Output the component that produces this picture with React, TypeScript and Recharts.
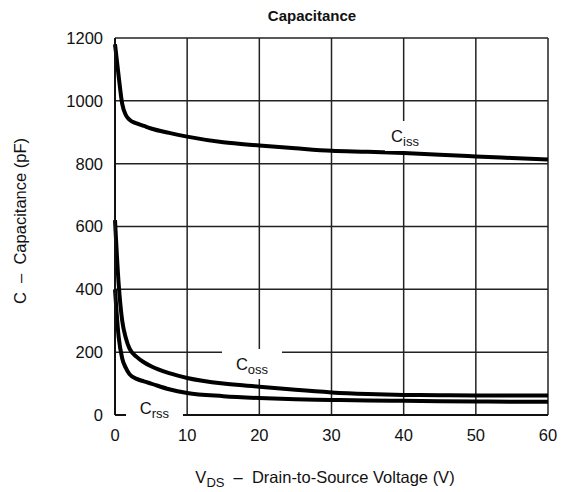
import { LineChart, Line, XAxis, YAxis, CartesianGrid } from "recharts"

// V_DS (V)
const vds = [0, 0.5, 1, 1.5, 2, 3, 4, 5, 7.5, 10, 15, 20, 25, 30, 35, 40, 45, 50, 55, 60]
// capacitances (pF)
const ciss = [1180, 1080, 990, 955, 940, 928, 920, 912, 898, 886, 868, 858, 849, 841, 838, 834, 828, 823, 818, 813]
const coss = [620, 420, 300, 245, 212, 185, 168, 155, 133, 118, 100, 90, 80, 72, 67, 64, 63, 62, 62, 62]
const crss = [400, 250, 180, 150, 130, 115, 107, 100, 82, 70, 60, 54, 50, 48, 46, 45, 44, 43, 42, 42]

const xTicks = [0, 10, 20, 30, 40, 50, 60]
const yTicks = [0, 200, 400, 600, 800, 1000, 1200]

const data = vds.map((v, i) => ({ vds: v, ciss: ciss[i], coss: coss[i], crss: crss[i] }))

const FONT = "'Liberation Sans', Arial, sans-serif"
const tickStyle = { fontSize: 16.5, fill: "#111", fontFamily: FONT }

function CurveLabel({ name, sub, left, top, width, height }: { name: string; sub: string; left: number; top: number; width: number; height: number }) {
  return (
    <div
      style={{
        position: "absolute",
        left,
        top,
        width,
        height,
        background: "#fff",
        fontFamily: FONT,
        fontSize: 16.5,
        color: "#111",
        display: "flex",
        alignItems: "center",
        justifyContent: "center",
      }}
    >
      <span>
        {name}
        <span style={{ fontSize: 13, position: "relative", top: 4 }}>{sub}</span>
      </span>
    </div>
  )
}

export default function App() {
  return (
    <div style={{ position: "relative", width: 565, height: 492, background: "#fff" }}>
      <style>{`body{margin:0}`}</style>
      <LineChart width={565} height={492} data={data} margin={{ top: 38, right: 17, left: 0, bottom: 47 }}>
        <CartesianGrid stroke="#222" strokeWidth={1.5} verticalValues={xTicks} horizontalValues={yTicks} />
        <XAxis
          dataKey="vds"
          type="number"
          domain={[0, 60]}
          ticks={xTicks}
          height={30}
          tickLine={false}
          tickMargin={8}
          axisLine={{ stroke: "#111", strokeWidth: 2 }}
          tick={tickStyle}
        />
        <YAxis
          type="number"
          domain={[0, 1200]}
          ticks={yTicks}
          width={115}
          tickLine={false}
          tickMargin={6}
          axisLine={{ stroke: "#111", strokeWidth: 2 }}
          tick={tickStyle}
        />
        <Line type="monotone" dataKey="ciss" stroke="#000" strokeWidth={4} dot={false} isAnimationActive={false} />
        <Line type="monotone" dataKey="coss" stroke="#000" strokeWidth={4} dot={false} isAnimationActive={false} />
        <Line type="monotone" dataKey="crss" stroke="#000" strokeWidth={4} dot={false} isAnimationActive={false} />
      </LineChart>

      <div
        style={{
          position: "absolute",
          left: 212,
          top: 7,
          width: 200,
          textAlign: "center",
          fontFamily: FONT,
          fontWeight: "bold",
          fontSize: 15,
          color: "#111",
        }}
      >
        Capacitance
      </div>

      <CurveLabel name="C" sub="iss" left={385} top={121} width={40} height={30} />
      <CurveLabel name="C" sub="oss" left={222} top={349} width={60} height={30} />
      <CurveLabel name="C" sub="rss" left={126} top={397} width={57} height={22} />

      <div
        style={{
          position: "absolute",
          left: 125,
          top: 468,
          width: 400,
          textAlign: "center",
          fontFamily: FONT,
          fontSize: 16.5,
          color: "#111",
          whiteSpace: "pre",
        }}
      >
        V<span style={{ fontSize: 13, position: "relative", top: 4 }}>DS</span>{"  –  Drain-to-Source Voltage (V)"}
      </div>

      <div
        style={{
          position: "absolute",
          left: 20,
          top: 221,
          transform: "translate(-50%, -50%) rotate(-90deg)",
          fontFamily: FONT,
          fontSize: 16.5,
          color: "#111",
          whiteSpace: "pre",
        }}
      >
        {"C  –  Capacitance (pF)"}
      </div>
    </div>
  )
}
